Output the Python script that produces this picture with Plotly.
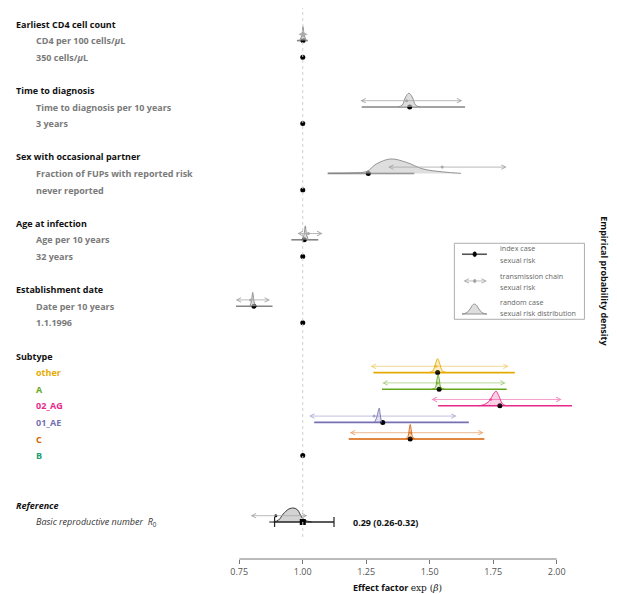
import plotly.graph_objects as go

# rows are counted from the top of the chart
headers = ["Earliest CD4 cell count", "Time to diagnosis", "Sex with occasional partner",
           "Age at infection", "Establishment date", "Subtype"]
header_rows = [0, 4, 8, 12, 16, 20]

labels = ["CD4 per 100 cells/<i>μ</i>L", "350 cells/<i>μ</i>L",
          "Time to diagnosis per 10 years", "3 years",
          "Fraction of FUPs with reported risk", "never reported",
          "Age per 10 years", "32 years",
          "Date per 10 years", "1.1.1996"]
label_rows = [1, 2, 5, 6, 9, 10, 13, 14, 17, 18]

# continuous covariates: index case effect, transmission chain effect
cov_rows = [1, 5, 9, 13, 17]
index_est = [1.001, 1.421, 1.258, 1.006, 0.808]
index_lo = [0.977, 1.232, 1.098, 0.955, 0.737]
index_hi = [1.020, 1.639, 1.439, 1.061, 0.881]
chain_est = [1.001, 1.409, 1.549, 1.022, 0.795]
chain_lo = [0.977, 1.221, 1.330, 0.973, 0.730]
chain_hi = [1.019, 1.628, 1.803, 1.078, 0.871]
cov_dens_x = [[0.987, 0.996, 1.001, 1.006, 1.015],
              [1.375, 1.392, 1.405, 1.418, 1.431, 1.444, 1.460],
              [1.107, 1.200, 1.252, 1.291, 1.347, 1.409, 1.473, 1.552, 1.623],
              [0.998, 1.005, 1.010, 1.015, 1.022],
              [0.792, 0.798, 0.803, 0.808, 0.814]]
cov_dens_h = [[0, 0.3, 0.85, 0.3, 0],
              [0, 0.12, 0.6, 0.83, 0.6, 0.12, 0],
              [0, 0.03, 0.12, 0.58, 0.87, 0.66, 0.27, 0.09, 0],
              [0, 0.3, 0.84, 0.3, 0],
              [0, 0.3, 0.83, 0.3, 0]]

# reference categories sit at 1
ref_rows = [2, 6, 10, 14, 18, 26]

subtypes = ["other", "A", "02_AG", "01_AE", "C", "B"]
subtype_rows = [21, 22, 23, 24, 25, 26]
subtype_colors = ["#E6AB02", "#66A61E", "#E7298A", "#7570B3", "#D95F02", "#1B9E77"]
subtype_rgb = [(230, 171, 2), (102, 166, 30), (231, 41, 138), (117, 112, 179), (217, 95, 2)]
sub_index_est = [1.531, 1.537, 1.776, 1.315, 1.423]
sub_index_lo = [1.278, 1.312, 1.533, 1.045, 1.181]
sub_index_hi = [1.835, 1.803, 2.060, 1.654, 1.715]
sub_chain_est = [1.525, 1.530, 1.740, 1.281, 1.425]
sub_chain_lo = [1.261, 1.307, 1.501, 1.019, 1.179]
sub_chain_hi = [1.811, 1.799, 2.019, 1.606, 1.712]
sub_dens_x = [[1.495, 1.512, 1.522, 1.531, 1.540, 1.550, 1.567],
              [1.510, 1.522, 1.528, 1.533, 1.538, 1.544, 1.558],
              [1.690, 1.715, 1.735, 1.750, 1.761, 1.772, 1.785, 1.800],
              [1.282, 1.290, 1.296, 1.301, 1.305, 1.310],
              [1.405, 1.414, 1.419, 1.423, 1.427, 1.432, 1.441]]
sub_dens_h = [[0, 0.1, 0.5, 0.84, 0.5, 0.1, 0],
              [0, 0.1, 0.55, 0.88, 0.55, 0.1, 0],
              [0, 0.08, 0.3, 0.7, 0.88, 0.6, 0.15, 0],
              [0, 0.25, 0.6, 0.86, 0.45, 0],
              [0, 0.15, 0.55, 0.87, 0.55, 0.15, 0]]

# basic reproductive number R0
r0_row = 30
r0_est = 1.0
r0_lo = 0.889
r0_hi = 1.123
r0_line_lo = 0.868
r0_chain_est = 0.894
r0_chain_lo = 0.789
r0_chain_hi = 1.018
r0_dens_x = [0.885, 0.905, 0.923, 0.945, 0.965, 0.980, 0.996, 1.009, 1.035]
r0_dens_h = [0, 0.12, 0.48, 0.78, 0.84, 0.72, 0.28, 0.1, 0]
r0_text = "0.29 (0.26-0.32)"

ticks = [0.75, 1.00, 1.25, 1.50, 1.75, 2.00]

FONT = "Open Sans"
ARROW_UP = 0.38
PLOT_H = 551

fig = go.Figure()
annotations = []
shapes = []


def add_arrow(row, lo, hi, est, color, dot_color=None):
    annotations.append(dict(x=hi, y=row - ARROW_UP, ax=lo, ay=row - ARROW_UP,
                            xref="x", yref="y", axref="x", ayref="y", text="",
                            showarrow=True, arrowhead=5, startarrowhead=5,
                            arrowside="end+start", arrowsize=1.1, startarrowsize=1.1,
                            arrowwidth=0.8, arrowcolor=color, standoff=0, startstandoff=0))
    fig.add_trace(go.Scatter(x=[est], y=[row - ARROW_UP], mode="markers",
                             marker=dict(size=3, color=dot_color or color), hoverinfo="skip"))


def add_density(row, dx, dh, fill, edge):
    fig.add_trace(go.Scatter(x=dx, y=[row - h for h in dh], mode="lines",
                             line=dict(color=edge, width=0.9, shape="spline"),
                             fill="toself", fillcolor=fill, hoverinfo="skip"))


def add_index(row, lo, hi, est, color, width=1.6):
    fig.add_trace(go.Scatter(x=[lo, hi], y=[row, row], mode="lines",
                             line=dict(color=color, width=width), hoverinfo="skip"))
    fig.add_trace(go.Scatter(x=[est], y=[row], mode="markers",
                             marker=dict(size=5, color="black"), hoverinfo="skip"))


# dotted line at 1
shapes.append(dict(type="line", x0=1, x1=1, xref="x", yref="paper", y0=0.04, y1=1,
                   line=dict(color="#d0d0d0", width=1, dash="dot")))

for i, r in enumerate(cov_rows):
    add_index(r, index_lo[i], index_hi[i], index_est[i], "#858585")
    add_density(r, cov_dens_x[i], cov_dens_h[i], "rgba(200,200,200,0.6)", "#888888")
    add_arrow(r, chain_lo[i], chain_hi[i], chain_est[i], "#a8a8a8")

for i in range(len(sub_index_est)):
    r = subtype_rows[i]
    cr, cg, cb = subtype_rgb[i]
    add_index(r, sub_index_lo[i], sub_index_hi[i], sub_index_est[i], subtype_colors[i])
    add_density(r, sub_dens_x[i], sub_dens_h[i], "rgba(%d,%d,%d,0.22)" % (cr, cg, cb),
                subtype_colors[i])
    add_arrow(r, sub_chain_lo[i], sub_chain_hi[i], sub_chain_est[i],
              "rgba(%d,%d,%d,0.55)" % (cr, cg, cb))

fig.add_trace(go.Scatter(x=[1.0] * len(ref_rows), y=ref_rows, mode="markers",
                         marker=dict(size=5, color="black"), hoverinfo="skip"))

# R0 row
add_arrow(r0_row, r0_chain_lo, r0_chain_hi, r0_chain_est, "#a8a8a8", "black")
add_density(r0_row, r0_dens_x, r0_dens_h, "rgba(200,200,200,0.8)", "#222222")
fig.add_trace(go.Scatter(x=[r0_line_lo, r0_hi], y=[r0_row, r0_row], mode="lines",
                         line=dict(color="#222222", width=1.2), hoverinfo="skip"))
fig.add_trace(go.Scatter(x=[r0_est], y=[r0_row], mode="markers",
                         marker=dict(size=6, color="black", symbol="square"),
                         error_x=dict(type="data", symmetric=False,
                                      array=[r0_hi - r0_est], arrayminus=[r0_est - r0_lo],
                                      color="#222222", thickness=1.2, width=5),
                         hoverinfo="skip"))
annotations.append(dict(x=1.19, y=r0_row, xref="x", yref="y", text="<b>" + r0_text + "</b>",
                        showarrow=False, xanchor="left", font=dict(size=9, color="#111")))

# left labels
for h, r in zip(headers, header_rows):
    annotations.append(dict(x=6 / 617, y=r, xref="paper", yref="y", text="<b>%s</b>" % h,
                            showarrow=False, xanchor="left",
                            font=dict(size=9, color="#111111")))
for t, r in zip(labels, label_rows):
    annotations.append(dict(x=26 / 617, y=r, xref="paper", yref="y", text="<b>%s</b>" % t,
                            showarrow=False, xanchor="left",
                            font=dict(size=9, color="#7a7a7a")))
for t, r, c in zip(subtypes, subtype_rows, subtype_colors):
    annotations.append(dict(x=26 / 617, y=r, xref="paper", yref="y", text="<b>%s</b>" % t,
                            showarrow=False, xanchor="left", font=dict(size=9, color=c)))
annotations.append(dict(x=6 / 617, y=r0_row - 1, xref="paper", yref="y",
                        text="<b><i>Reference</i></b>", showarrow=False, xanchor="left",
                        font=dict(size=9, color="#111111")))
annotations.append(dict(x=26 / 617, y=r0_row, xref="paper", yref="y",
                        text="<i>Basic reproductive number  R</i><sub>0</sub>",
                        showarrow=False, xanchor="left", font=dict(size=9, color="#333333")))

# axis line and title
shapes.append(dict(type="line", x0=ticks[0], x1=ticks[-1], xref="x", yref="paper", y0=0, y1=0,
                   line=dict(color="#777777", width=1)))
annotations.append(dict(x=389 / 617, y=-28 / PLOT_H, xref="paper", yref="paper",
                        xanchor="center", yanchor="middle",
                        text="<b>Effect factor</b> <span style='font-family:DejaVu Serif'>exp (<i>β</i>)</span>",
                        showarrow=False, font=dict(size=9, color="#111111")))

# right label
annotations.append(dict(x=597 / 617, y=15.5, xref="paper", yref="y",
                        xanchor="center", yanchor="middle",
                        text="<b>Empirical probability density</b>", textangle=90,
                        showarrow=False, font=dict(size=9, color="#111111")))

# legend box
shapes.append(dict(type="rect", x0=1.597, x1=2.109, y0=13.21, y1=17.79, xref="x", yref="y",
                   line=dict(color="#999999", width=0.8), fillcolor="white"))
shapes.append(dict(type="line", x0=1.627, x1=1.725, y0=13.87, y1=13.87, xref="x", yref="y",
                   line=dict(color="#555555", width=1.6)))
shapes.append(dict(type="circle", x0=1.670, x1=1.684, y0=13.72, y1=14.02, xref="x", yref="y",
                   line=dict(color="black", width=0.5), fillcolor="black"))
annotations.append(dict(x=1.725, y=15.48, ax=1.627, ay=15.48, xref="x", yref="y",
                        axref="x", ayref="y", text="", showarrow=True, arrowhead=5,
                        startarrowhead=5, arrowside="end+start", arrowsize=1.1,
                        startarrowsize=1.1, arrowwidth=0.8, arrowcolor="#a8a8a8",
                        standoff=0, startstandoff=0))
shapes.append(dict(type="circle", x0=1.672, x1=1.682, y0=15.38, y1=15.58, xref="x", yref="y",
                   line=dict(color="#999", width=0.5), fillcolor="#999"))
shapes.append(dict(type="path", xref="x", yref="y",
                   path="M1.627,17.47 C1.660,17.47 1.662,16.87 1.676,16.87 "
                        "C1.690,16.87 1.692,17.47 1.725,17.47 Z",
                   line=dict(color="#888888", width=0.9), fillcolor="rgba(200,200,200,0.6)"))
legend_lines = [("index case", 13.49), ("sexual risk", 14.22), ("transmission chain", 15.18),
                ("sexual risk", 15.84), ("random case", 16.75), ("sexual risk distribution", 17.41)]
for t, yy in legend_lines:
    annotations.append(dict(x=1.767, y=yy, xref="x", yref="y", text=t, showarrow=False,
                            xanchor="left", font=dict(size=7.2, color="#666666")))

fig.update_layout(
    width=617, height=594,
    margin=dict(l=0, r=0, t=0, b=594 - PLOT_H, autoexpand=False),
    plot_bgcolor="white", paper_bgcolor="white",
    font=dict(family=FONT, color="#333333"),
    showlegend=False, hovermode=False,
    annotations=annotations, shapes=shapes,
    xaxis=dict(range=[-0.1605, 2.2687], tickvals=ticks,
               ticktext=["%.2f" % t for t in ticks], ticks="outside", ticklen=4,
               tickcolor="#777777", showgrid=False, zeroline=False, showline=False,
               tickfont=dict(size=9, color="#555555"), fixedrange=True),
    yaxis=dict(range=[(PLOT_H - 16) / 16.6, -16 / 16.6], visible=False, fixedrange=True),
)

fig.write_html("out.html", config={"displayModeBar": False})
